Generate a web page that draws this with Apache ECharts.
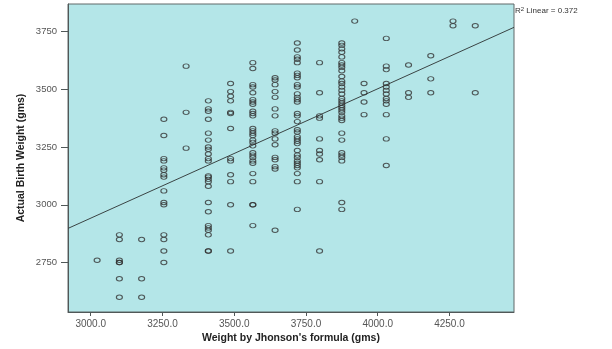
<!DOCTYPE html>
<html>
<head>
<meta charset="utf-8">
<script src="https://cdn.jsdelivr.net/npm/echarts@6/dist/echarts.min.js"></script>
<style>
  html, body { margin: 0; padding: 0; background: #fff; }
  #chart { width: 612px; height: 349px; }
</style>
</head>
<body>
<div id="chart"></div>
<script>
// x: weight by Jhonson's formula, y: actual birth weight (one list per formula value)
var formulaWeights = [3022.5, 3100, 3177.5, 3255, 3332.5, 3410, 3487.5, 3565, 3642.5, 3720,
  3797.5, 3875, 3920, 3952.5, 4030, 4107.5, 4185, 4262.5, 4340];

var bw3022 = [2760];
var bw3100 = [2870, 2850, 2760, 2750, 2750, 2680, 2600];
var bw3177 = [2850, 2680, 2600];
var bw3255 = [3370, 3300, 3200, 3190, 3160, 3150, 3130, 3120, 3060, 3010, 3000, 2870, 2850, 2800, 2750];
var bw3332 = [3600, 3400, 3245];
var bw3410 = [3450, 3415, 3405, 3370, 3310, 3280, 3250, 3240, 3220, 3200, 3190, 3125, 3120, 3110,
  3100, 3080, 3010, 2970, 2910, 2900, 2890, 2870, 2800, 2800];
var bw3487 = [3525, 3490, 3470, 3450, 3400, 3395, 3330, 3200, 3190, 3130, 3100, 3000, 2800];
var bw3565 = [3615, 3590, 3520, 3510, 3485, 3455, 3445, 3435, 3405, 3395, 3385, 3330, 3320, 3310,
  3300, 3280, 3270, 3255, 3225, 3215, 3205, 3190, 3180, 3135, 3100, 3000, 3000, 2910];
var bw3642 = [3550, 3540, 3520, 3490, 3465, 3415, 3385, 3320, 3310, 3285, 3260, 3205, 3195, 3165, 3155, 2890];
var bw3720 = [3700, 3670, 3640, 3630, 3615, 3570, 3560, 3550, 3520, 3510, 3480, 3465, 3455, 3445,
  3395, 3385, 3360, 3325, 3315, 3295, 3285, 3275, 3265, 3235, 3215, 3205, 3190, 3180, 3170, 3160,
  3135, 3100, 2980];
var bw3797 = [3615, 3485, 3385, 3375, 3285, 3235, 3220, 3195, 3100, 2800];
var bw3875 = [3700, 3690, 3675, 3660, 3640, 3615, 3605, 3595, 3580, 3555, 3535, 3525, 3510, 3495,
  3480, 3460, 3450, 3440, 3430, 3420, 3410, 3400, 3385, 3375, 3365, 3310, 3280, 3225, 3215, 3205,
  3190, 3010, 2980];
var bw3920 = [3795];
var bw3952 = [3525, 3485, 3445, 3390];
var bw4030 = [3720, 3600, 3585, 3525, 3510, 3495, 3480, 3460, 3450, 3435, 3390, 3285, 3170];
var bw4107 = [3605, 3485, 3465];
var bw4185 = [3645, 3545, 3485];
var bw4262 = [3795, 3775];
var bw4340 = [3775, 3485];

var birthWeights = [bw3022, bw3100, bw3177, bw3255, bw3332, bw3410, bw3487, bw3565, bw3642, bw3720,
  bw3797, bw3875, bw3920, bw3952, bw4030, bw4107, bw4185, bw4262, bw4340];

var xTicks = [3000, 3250, 3500, 3750, 4000, 4250];
var yTicks = [2750, 3000, 3250, 3500, 3750];

// linear fit
var fitIntercept = 1262;
var fitSlope = 0.560;
var rSquared = '0.372';

var xMin = 2921, xMax = 4475, yMin = 2536, yMax = 3869;

var points = [];
formulaWeights.forEach(function (x, i) {
  birthWeights[i].forEach(function (y) { points.push([x, y]); });
});
var fitLine = [[xMin, fitIntercept + fitSlope * xMin], [xMax, fitIntercept + fitSlope * xMax]];

var chart = echarts.init(document.getElementById('chart'));
chart.setOption({
  animation: false,
  backgroundColor: '#ffffff',
  textStyle: { fontFamily: 'Liberation Sans, Arial, sans-serif' },
  grid: {
    left: 68, right: 98, top: 4, bottom: 35,
    show: true,
    backgroundColor: '#b4e6e8',
    borderColor: '#606868',
    borderWidth: 1
  },
  xAxis: {
    type: 'value',
    min: xMin, max: xMax,
    name: "Weight by Jhonson's formula (gms)",
    nameLocation: 'middle',
    nameGap: 21,
    nameMoveOverlap: false,
    nameTextStyle: { fontSize: 10.5, fontWeight: 'bold', color: '#222' },
    splitLine: { show: false },
    axisLine: { show: true, onZero: false, lineStyle: { color: '#505858', width: 1 } },
    axisTick: { show: true, length: 4, customValues: xTicks, lineStyle: { color: '#505858' } },
    axisLabel: {
      customValues: xTicks, margin: 7, fontSize: 10, color: '#555',
      formatter: function (v) { return v.toFixed(1); }
    }
  },
  yAxis: {
    type: 'value',
    min: yMin, max: yMax,
    name: 'Actual Birth Weight (gms)',
    nameLocation: 'middle',
    nameGap: 41,
    nameMoveOverlap: false,
    nameTextStyle: { fontSize: 10.5, fontWeight: 'bold', color: '#222' },
    splitLine: { show: false },
    axisLine: { show: true, onZero: false, lineStyle: { color: '#505858', width: 1 } },
    axisTick: { show: true, length: 7, customValues: yTicks, lineStyle: { color: '#505858' } },
    axisLabel: {
      customValues: yTicks, margin: 11, fontSize: 9.5, color: '#555',
      formatter: function (v) { return String(v); }
    }
  },
  series: [{
    type: 'scatter',
    data: points,
    symbol: 'circle',
    symbolSize: [6, 4.5],
    itemStyle: { color: 'rgba(0,0,0,0)', borderColor: '#333', borderWidth: 1 },
    z: 3
  }, {
    type: 'line',
    data: fitLine,
    symbol: 'none',
    lineStyle: { color: '#3a4444', width: 1 },
    z: 2
  }],
  graphic: [{
    type: 'text',
    left: 515, top: 6,
    style: {
      text: 'R{sup|2} Linear = ' + rSquared,
      font: '8px Liberation Sans, Arial, sans-serif',
      fill: '#333',
      rich: { sup: { fontSize: 6, verticalAlign: 'top', padding: [0, 0, 4, 0] } }
    }
  }]
});
</script>
</body>
</html>
